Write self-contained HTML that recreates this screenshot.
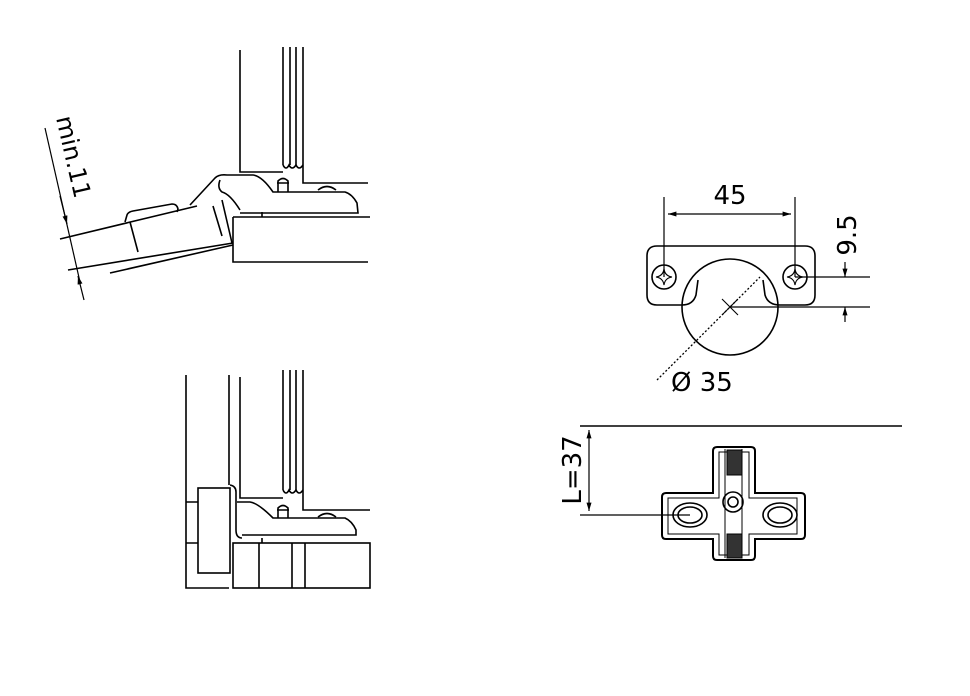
<!DOCTYPE html>
<html><head><style>html,body{margin:0;padding:0;background:#fff}svg{display:block}</style></head>
<body>
<svg width="970" height="696" viewBox="0 0 970 696" xmlns="http://www.w3.org/2000/svg" fill="none" stroke="#000" stroke-width="1.6" font-family="DejaVu Sans, Liberation Sans, sans-serif">
<defs>
<marker id="a" viewBox="0 0 10 10" refX="10" refY="5" markerWidth="7" markerHeight="7" orient="auto-start-reverse"><path d="M0,2 L10,5 L0,8 z" fill="#000" stroke="none"/></marker>
</defs>
<!-- Top-left hinge -->
<path d="M240 50 V172 H283"/>
<path d="M283 47 V165 M290 47 V165 M296 47 V165 M303 47 V183 H368"/>
<path d="M283 165 q3 6 6 0 q3 6 7 0 q3 6 7 0"/>
<path d="M233 217 H370 M233 217 V262 H368"/>
<path d="M190 205 L215 178 Q219 174 227 175 L253 175 Q262 176 273 192 H345 Q352 194 357 203 L358 213 H240"/>
<path d="M220 180 Q217 188 222 192 Q230 194 240 210"/>
<path d="M262 212 V217"/>
<path d="M278 192 V181 Q283 176 288 181 V192 M277 183 H289"/>
<path d="M318 190 Q327 183 336 190"/>
<path d="M60 239 L197 206 M68 270 L233 243 M110 273 L233 245"/>
<path d="M130 222 L138 252 M213 206 L222 236 M222 200 L232 243"/>
<path d="M125 222 L127 215 Q128 212 133 211 L172 204 Q177 204 178 209 L177 212"/>
<path d="M45 128 L80 282" stroke-width="1.2"/>
<path d="M60 196 L67 224" marker-end="url(#a)" stroke-width="1.2"/>
<path d="M84 300 L78 276" marker-end="url(#a)" stroke-width="1.2"/>
<text x="0" y="0" font-size="24" fill="#000" stroke="none" transform="translate(56,118) rotate(77)">min.11</text>
<!-- Bottom-left hinge -->
<path d="M186 375 V588 H229 M229 375 V485 M240 377 V498 H283"/>
<path d="M283 370 V490 M290 370 V490 M296 370 V490 M303 370 V510 H370"/>
<path d="M283 490 q3 6 6 0 q3 6 7 0 q3 6 7 0"/>
<rect x="198" y="488" width="32" height="85"/>
<path d="M186 502 H198 M186 543 H198"/>
<path d="M230 485 Q236 486 236 492 V530 Q236 538 242 538"/>
<rect x="233" y="543" width="137" height="45"/>
<path d="M259 543 V588 M292 543 V588 M305 543 V588"/>
<path d="M237 502 H250 Q258 503 273 518 H345 Q352 521 356 530 V535 H242 M262 538 V543"/>
<path d="M278 518 V508 Q283 503 288 508 V518 M277 510 H289"/>
<path d="M318 517 Q327 510 336 517"/>
<!-- Top-right plate -->
<path d="M698 280 L696 295 Q693 305 682 305 H657 Q647 305 647 295 V256 Q647 246 657 246 H805 Q815 246 815 256 V295 Q815 305 805 305 H780 Q768 305 765 295 L763 280"/>
<circle cx="730" cy="307" r="48"/>
<circle cx="664" cy="277" r="12"/>
<circle cx="795" cy="277" r="12"/>
<path d="M664 269 Q665 276 672 277 Q665 278 664 285 Q663 278 656 277 Q663 276 664 269z" stroke-width="1.1"/>
<path d="M795 269 Q796 276 803 277 Q796 278 795 285 Q794 278 787 277 Q794 276 795 269z" stroke-width="1.1"/>
<path d="M722 299 L738 315 M738 299 L722 315" stroke-width="1.1"/>
<path d="M657 380 L760 277" stroke-dasharray="2 2" stroke-width="1.3"/>
<path d="M664 197 V277 M795 197 V277" stroke-width="1.2"/>
<path d="M668 214 H791" marker-start="url(#a)" marker-end="url(#a)" stroke-width="1.2"/>
<path d="M795 277 H870 M730 307 H870" stroke-width="1.2"/>
<path d="M845 262 V277" marker-end="url(#a)" stroke-width="1.2"/>
<path d="M845 322 V307" marker-end="url(#a)" stroke-width="1.2"/>
<text x="730" y="204" font-size="26" text-anchor="middle" fill="#000" stroke="none">45</text>
<text x="0" y="0" font-size="26" text-anchor="middle" fill="#000" stroke="none" transform="translate(856,235) rotate(-90)">9.5</text>
<text x="671" y="391" font-size="26" fill="#000" stroke="none">Ø 35</text>
<!-- Bottom-right plate -->
<path d="M580 426 H902"/>
<path d="M589 430 V511" marker-start="url(#a)" marker-end="url(#a)" stroke-width="1.2"/>
<path d="M580 515 H690" stroke-width="1.2"/>
<text x="0" y="0" font-size="26" text-anchor="middle" fill="#000" stroke="none" transform="translate(581,470) rotate(-90)">L=37</text>
<path d="M717 447 H751 Q755 447 755 451 V493 H801 Q805 493 805 497 V535 Q805 539 801 539 H755 V556 Q755 560 751 560 H717 Q713 560 713 556 V539 H666 Q662 539 662 535 V497 Q662 493 666 493 H713 V451 Q713 447 717 447z" stroke-width="2"/>
<path d="M719 452 H749 V498 H797 V534 H749 V555 H719 V534 H668 V498 H719z" stroke-width="1"/>
<path d="M725 449 V558 M742 449 V558" stroke-width="1"/>
<rect x="727" y="450" width="15" height="25" fill="#333" stroke-width="1"/>
<rect x="727" y="534" width="15" height="24" fill="#333" stroke-width="1"/>
<ellipse cx="690" cy="515" rx="17" ry="12"/>
<ellipse cx="690" cy="515" rx="12" ry="8"/>
<ellipse cx="780" cy="515" rx="17" ry="12"/>
<ellipse cx="780" cy="515" rx="12" ry="8"/>
<circle cx="733" cy="502" r="10"/>
<circle cx="733" cy="502" r="5"/>
</svg>
</body></html>
